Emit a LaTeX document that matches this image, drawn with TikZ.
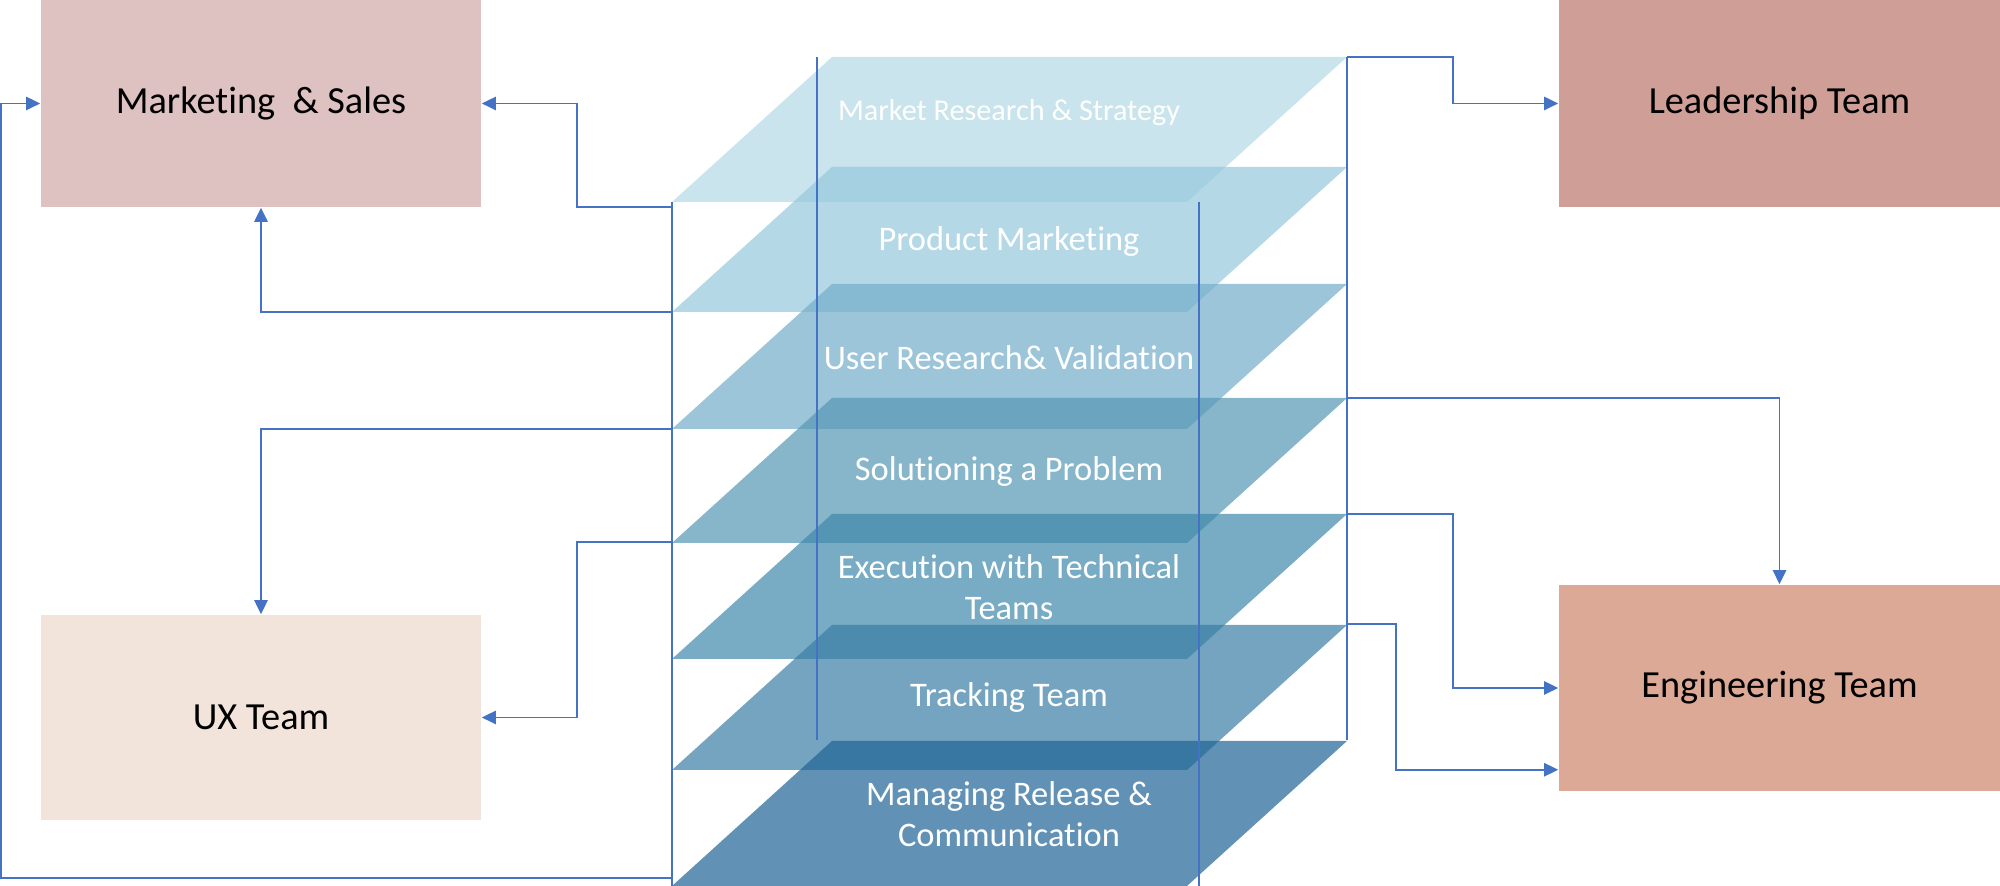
\documentclass[tikz,border=0pt]{standalone}
\usepackage{fontspec}
\setmainfont{Carlito}[Ligatures=NoCommon]
\usepackage{tikz}
\usetikzlibrary{arrows.meta}
\usetikzlibrary{calc}
\definecolor{linkblue}{HTML}{4472C4}
\definecolor{mktcol}{HTML}{DEC1C1}
\definecolor{leadcol}{HTML}{CF9E96}
\definecolor{uxcol}{HTML}{F2E4DA}
\definecolor{engcol}{HTML}{DBA995}
\definecolor{layA}{RGB}{178,217,229}
\definecolor{layB}{RGB}{149,200,220}
\definecolor{layC}{RGB}{115,172,201}
\definecolor{layD}{RGB}{84,151,181}
\definecolor{layE}{RGB}{62,135,171}
\definecolor{layF}{RGB}{58,125,165}
\definecolor{layG}{RGB}{30,100,150}
\tikzstyle{team}=[rectangle,minimum width=4.4cm,minimum height=2.07cm,inner sep=0pt,font=\fontsize{10.9}{13}\selectfont]
\tikzstyle{layer}=[text=white,align=center,inner sep=0pt,font=\fontsize{9.8}{11.7}\selectfont]
\tikzstyle{linkhead}=[>/.tip={Triangle[length=4pt,width=3.8pt]}]
\tikzstyle{link}=[line width=.45pt,linkblue,linkhead,->]
\tikzstyle{edge}=[line width=.35pt,linkblue]

\begin{document}
\begin{tikzpicture}[x=.01cm,y=.01cm]
  \useasboundingbox (0,0) rectangle (2000,886);
  \node[team,fill=mktcol] (mkt) at (261,782.5) {Marketing~ \& Sales};
  \node[team,fill=leadcol,minimum width=4.41cm] (lead) at (1779.5,782.5) {Leadership Team};
  \node[team,fill=uxcol,minimum height=2.05cm] (ux) at (261,168.5) {UX Team};
  \node[team,fill=engcol,minimum width=4.41cm,minimum height=2.06cm] (eng) at (1779.5,198) {Engineering Team};

  \foreach \t/\c in {829/layA,719/layB,602/layC,488/layD,372/layE,261/layF,145/layG}
    \fill[\c,opacity=.7] (672,\t-145) -- (1187,\t-145) -- (1347,\t) -- (832,\t) -- cycle;
  \draw[edge] (672,684) -- (672,0);
  \draw[edge] (1199,684) -- (1199,0);
  \draw[edge] (817,829) -- (817,146);
  \draw[edge] (1347,829) -- (1347,146);

  \node[layer,font=\fontsize{8.6}{10}\selectfont] (mrs) at (1009,773) {Market Research \& Strategy};
  \node[layer] (pm) at (1009,644) {Product Marketing};
  \node[layer] (urv) at (1009,528) {User Research\& Validation};
  \node[layer] (sol) at (1009,414) {Solutioning a Problem};
  \node[layer] (exe) at (1009,299) {Execution with Technical\\Teams};
  \node[layer] (trk) at (1009,188) {Tracking Team};
  \node[layer] (rel) at (1009,72) {Managing Release \&\\Communication};

  \coordinate (r1) at (1347,829);
  \coordinate (r4) at (1347,488);
  \coordinate (r5) at (1347,372);
  \coordinate (r6) at (1347,262);
  \coordinate (l1) at (672,679);
  \coordinate (l2) at (672,574);
  \coordinate (l3) at (672,457);
  \coordinate (l4) at (672,344);
  \coordinate (l7) at (672,8);
  \draw[link] (r1) -- ++(106,0) |- (lead.west);
  \draw[link] (l1) -- ++(-95,0) |- (mkt.east);
  \draw[link] (l2) -| (mkt.south);
  \draw[link] (l3) -| (ux.north);
  \draw[link] (l4) -- ++(-95,0) |- (ux.east);
  \draw[link] (l7) -- ++(-671,0) |- (mkt.west);
  \draw[link] (r4) -| (eng.north);
  \draw[link] (r5) -- ++(106,0) |- (eng.west);
  \draw[link] (r6) -- ++(49,0) |- ($(eng.south west)+(0,22)$);
\end{tikzpicture}
\end{document}
